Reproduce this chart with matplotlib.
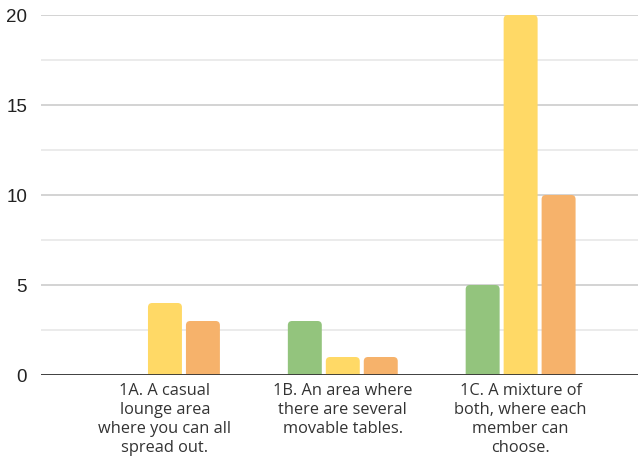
import matplotlib
matplotlib.use("Agg")
import matplotlib.pyplot as plt
from matplotlib.patches import FancyBboxPatch
import numpy as np

# data
categories = ["1A. A casual\nlounge area\nwhere you can all\nspread out.",
              "1B. An area where\nthere are several\nmovable tables.",
              "1C. A mixture of\nboth, where each\nmember can\nchoose."]
green_vals = [0, 3, 5]
yellow_vals = [4, 1, 20]
orange_vals = [3, 1, 10]
colors = ["#93c47d", "#ffd966", "#f6b26b"]

fig = plt.figure(figsize=(6.38, 4.59), dpi=100)
ax = fig.add_axes([41/638, 84/459, 597/638, 360/459])

x = np.arange(len(categories))
w = 0.191
off = 0.2135
rx = 0.024
aspect = 9.9
for i, (vals, c) in enumerate(zip([green_vals, yellow_vals, orange_vals], colors)):
    bars = ax.bar(x + (i - 1) * off, vals, width=w, color=c, zorder=3)
    # swap plain bars for ones with rounded tops
    for b in bars:
        bx, bh = b.get_x(), b.get_height()
        b.set_visible(False)
        r = rx * aspect
        p = FancyBboxPatch((bx, -r), w, bh + r,
                           boxstyle=f"round,pad=0,rounding_size={rx}",
                           mutation_aspect=aspect, fc=c, ec="none", zorder=3)
        ax.add_patch(p)

ax.set_xlim(-0.697, 2.66)
ax.set_ylim(0, 20)
ax.set_yticks([0, 5, 10, 15, 20])
ax.set_yticks([2.5, 7.5, 12.5, 17.5], minor=True)
ax.grid(axis="y", which="major", color="#cccccc", lw=1.2, zorder=0)
ax.grid(axis="y", which="minor", color="#e8e8e8", lw=1.2, zorder=0)
ax.axhline(0, color="#333333", lw=2, zorder=4)
for s in ax.spines.values():
    s.set_visible(False)
ax.tick_params(axis="y", which="both", length=0, pad=10, labelsize=13.5)
ax.tick_params(axis="x", length=0, pad=6)
for t in ax.get_yticklabels():
    t.set_fontfamily(["Liberation Sans Narrow", "Liberation Sans", "DejaVu Sans"])
    t.set_color("#222222")
ax.set_xticks(x)
ax.set_xticklabels(categories, fontsize=11.8, color="#333333", linespacing=1.24,
                   fontfamily=["Open Sans", "DejaVu Sans"])

fig.savefig("out.png", dpi=100)
